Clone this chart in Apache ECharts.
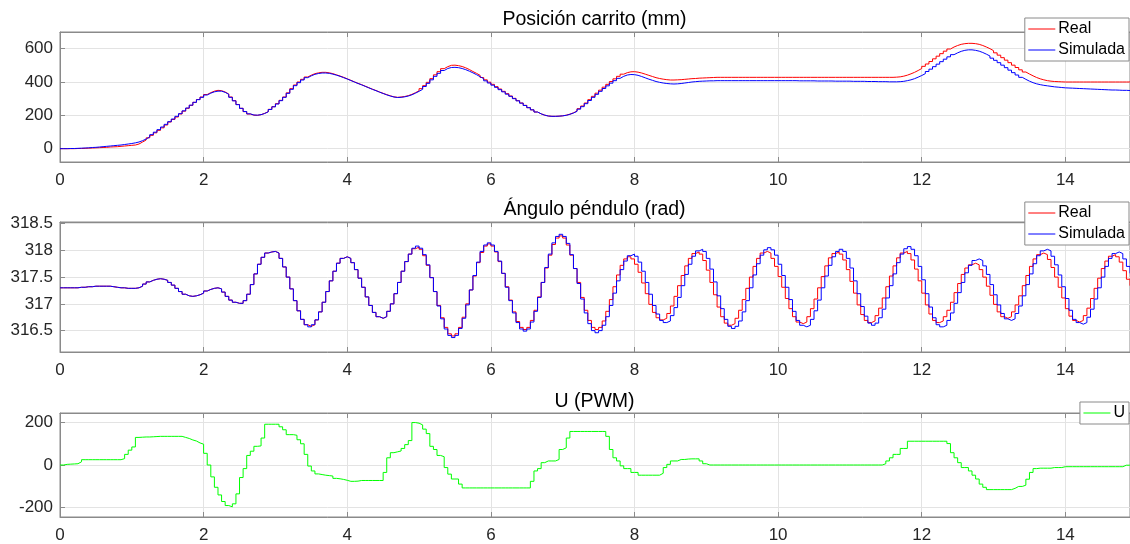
<!DOCTYPE html>
<html>
<head>
<meta charset="utf-8">
<script src="https://cdn.jsdelivr.net/npm/echarts@6/dist/echarts.min.js"></script>
<style>
html,body{margin:0;padding:0;background:#fff}
#chart{width:1130px;height:544px}
</style>
</head>
<body>
<div id="chart"></div>
<script>
// periodo de muestreo (s)
var dt = 0.05;

// Posición carrito (mm)
var posReal = [
0,0,0,0,1,1,2,3,4,5,6,7,8,10,11,12,14,16,18,20,
22,28,40,52,65,80,95,110,125,142,160,175,190,208,225,242,260,278,295,310,
325,336,345,350,348,340,328,310,288,265,242,222,208,201,200,204,212,222,236,252,
270,290,310,335,360,382,400,416,430,441,450,455,458,458,455,450,443,436,428,419,
410,401,392,384,375,366,357,349,340,332,324,317,311,308,310,313,318,326,336,347,
360,378,398,420,443,462,480,492,500,501,498,493,485,475,463,452,440,427,413,399,
386,372,358,344,330,316,302,288,274,260,246,233,220,209,201,196,194,194,195,197,
201,207,215,226,240,256,274,294,314,333,351,369,386,403,419,434,447,456,461,462,
459,454,447,440,433,426,421,417,414,412,412,413,414,416,418,420,421,423,424,425,
426,427,428,428,428,428,428,428,428,428,428,428,428,428,428,428,428,428,428,428,
428,428,428,428,428,428,428,428,428,428,428,428,428,428,428,428,428,428,428,428,
428,428,428,428,428,428,428,428,428,428,428,428,429,431,435,441,449,458,469,481,
494,508,523,539,555,570,585,598,610,619,626,630,632,632,630,626,619,610,600,588,
575,561,546,531,516,501,487,473,460,448,437,427,419,413,408,405,403,402,401,400,
400,400,400,400,400,400,400,400,400,400,400,400,400,400,400,400,400,400,400
];
var posSim = [
0,0,1,1,2,3,4,5,7,8,10,12,14,16,18,20,22,25,28,31,
35,40,48,58,70,84,99,114,130,146,162,178,194,210,227,244,261,278,294,308,
322,333,341,345,345,338,326,308,287,264,242,223,209,202,201,204,211,221,235,251,
268,288,308,332,356,378,396,412,426,437,446,451,454,454,452,447,441,434,426,418,
409,400,391,383,374,365,356,348,339,331,323,316,310,307,308,311,316,323,333,344,
356,373,392,413,434,452,469,481,487,488,486,481,474,465,455,444,432,420,407,394,
381,368,354,341,327,314,300,287,273,259,246,233,220,209,201,196,194,194,195,197,
200,206,214,224,237,252,270,289,308,326,344,361,377,393,408,422,434,442,445,444,
440,433,425,417,410,403,398,394,391,389,388,389,391,394,397,400,402,404,405,406,
407,407,408,408,408,408,408,408,408,408,408,408,408,408,408,408,408,408,408,408,
408,408,408,408,408,407,407,407,407,407,406,406,406,406,406,405,405,405,405,405,
404,404,404,404,403,403,403,402,402,402,401,401,401,402,404,408,413,420,429,439,
450,463,477,492,507,522,537,551,564,575,584,590,593,593,590,585,577,567,556,543,
530,516,501,486,471,456,442,428,416,405,396,389,384,380,377,374,371,369,367,365,
364,363,362,361,360,359,358,357,356,355,354,353,352,352,351,350,350,349,349
];

// Ángulo péndulo (rad)
var angReal = [
317.30,317.30,317.30,317.30,317.30,317.31,317.31,317.32,317.32,317.33,317.33,317.33,317.33,317.33,317.32,317.31,317.30,317.30,317.29,317.29,
317.29,317.30,317.33,317.37,317.41,317.44,317.46,317.47,317.46,317.44,317.40,317.35,317.29,317.23,317.18,317.15,317.14,317.15,317.17,317.20,
317.24,317.27,317.29,317.30,317.28,317.22,317.14,317.07,317.03,317.01,317.01,317.06,317.18,317.36,317.56,317.74,317.87,317.95,317.97,317.98,
317.95,317.85,317.69,317.50,317.28,317.06,316.87,316.71,316.61,316.58,316.61,316.70,316.85,317.03,317.23,317.43,317.61,317.76,317.85,317.88,
317.85,317.77,317.64,317.48,317.31,317.13,316.97,316.84,316.76,316.73,316.76,316.86,317.00,317.19,317.40,317.61,317.79,317.93,318.03,318.06,
318.02,317.90,317.72,317.49,317.23,316.97,316.74,316.56,316.44,316.40,316.44,316.56,316.75,317.00,317.26,317.52,317.77,317.96,318.08,318.12,
318.08,317.97,317.79,317.57,317.32,317.07,316.85,316.67,316.56,316.52,316.56,316.69,316.88,317.13,317.40,317.67,317.91,318.11,318.23,318.27,
318.23,318.10,317.91,317.66,317.40,317.12,316.88,316.69,316.56,316.52,316.56,316.68,316.86,317.08,317.32,317.54,317.72,317.84,317.88,317.84,
317.74,317.59,317.39,317.19,316.99,316.84,316.74,316.70,316.73,316.82,316.96,317.14,317.34,317.53,317.71,317.85,317.94,317.97,317.93,317.81,
317.63,317.40,317.17,316.94,316.76,316.64,316.60,316.63,316.73,316.88,317.08,317.29,317.50,317.70,317.85,317.95,317.98,317.95,317.85,317.70,
317.51,317.31,317.10,316.91,316.76,316.66,316.63,316.66,316.76,316.91,317.09,317.30,317.51,317.71,317.86,317.94,317.97,317.93,317.82,317.64,
317.42,317.20,316.98,316.80,316.69,316.65,316.68,316.78,316.92,317.11,317.32,317.52,317.71,317.86,317.95,317.98,317.94,317.82,317.65,317.43,
317.20,316.98,316.81,316.69,316.65,316.68,316.76,316.88,317.03,317.21,317.38,317.55,317.67,317.73,317.76,317.73,317.64,317.50,317.33,317.16,
316.99,316.85,316.76,316.73,316.76,316.85,316.98,317.15,317.34,317.53,317.70,317.84,317.92,317.95,317.92,317.83,317.68,317.50,317.31,317.11,
316.91,316.77,316.69,316.66,316.69,316.78,316.92,317.10,317.29,317.48,317.66,317.80,317.89,317.92,317.88,317.78,317.62,317.46,317.34
];
var angSim = [
317.30,317.30,317.30,317.30,317.30,317.31,317.31,317.32,317.32,317.33,317.33,317.33,317.33,317.33,317.32,317.31,317.30,317.30,317.29,317.29,
317.29,317.30,317.33,317.37,317.41,317.44,317.46,317.47,317.46,317.44,317.40,317.35,317.29,317.23,317.18,317.15,317.14,317.15,317.17,317.20,
317.24,317.27,317.29,317.30,317.28,317.22,317.14,317.07,317.03,317.01,317.01,317.06,317.18,317.36,317.56,317.74,317.87,317.95,317.97,317.98,
317.95,317.85,317.69,317.50,317.28,317.06,316.87,316.71,316.61,316.57,316.61,316.70,316.85,317.03,317.23,317.43,317.61,317.76,317.85,317.88,
317.85,317.77,317.64,317.48,317.31,317.13,316.97,316.84,316.76,316.73,316.76,316.86,317.00,317.19,317.40,317.61,317.79,317.93,318.04,318.08,
318.04,317.92,317.73,317.49,317.23,316.96,316.72,316.53,316.41,316.37,316.41,316.54,316.73,316.98,317.26,317.53,317.78,317.98,318.10,318.14,
318.10,317.98,317.80,317.57,317.31,317.06,316.83,316.65,316.53,316.49,316.53,316.66,316.86,317.12,317.40,317.68,317.93,318.14,318.26,318.30,
318.26,318.13,317.92,317.66,317.38,317.09,316.83,316.63,316.50,316.46,316.50,316.60,316.76,316.97,317.20,317.43,317.64,317.80,317.90,317.93,
317.89,317.78,317.61,317.40,317.18,316.97,316.81,316.69,316.65,316.68,316.78,316.93,317.12,317.34,317.55,317.74,317.89,317.99,318.02,317.98,
317.85,317.65,317.41,317.15,316.91,316.71,316.58,316.54,316.58,316.68,316.85,317.06,317.30,317.54,317.75,317.91,318.01,318.05,318.01,317.91,
317.74,317.53,317.31,317.08,316.86,316.69,316.60,316.57,316.60,316.71,316.87,317.07,317.30,317.52,317.72,317.88,317.98,318.02,317.98,317.85,
317.67,317.43,317.19,316.95,316.77,316.64,316.60,316.64,316.74,316.90,317.11,317.34,317.56,317.77,317.93,318.03,318.07,318.02,317.90,317.70,
317.45,317.19,316.94,316.74,316.61,316.57,316.60,316.69,316.83,317.01,317.21,317.40,317.58,317.72,317.81,317.84,317.81,317.71,317.55,317.36,
317.17,316.98,316.82,316.72,316.69,316.72,316.82,316.96,317.15,317.36,317.56,317.75,317.90,317.99,318.02,317.99,317.89,317.73,317.54,317.32,
317.10,316.88,316.71,316.65,316.62,316.65,316.75,316.90,317.09,317.30,317.50,317.70,317.85,317.94,317.97,317.94,317.84,317.70,317.57
];

// U (PWM)
var uPwm = [
0,3,4,5,6,15,25,25,25,25,25,25,25,25,25,25,25,30,50,70,
85,130,131,132,132,133,134,135,135,135,135,135,135,135,130,125,118,113,104,98,
55,0,-56,-105,-141,-172,-191,-197,-183,-136,-59,-17,45,65,88,90,127,192,192,192,
192,180,166,143,143,140,119,100,50,-5,-28,-42,-45,-48,-50,-52,-63,-65,-68,-72,
-77,-77,-76,-73,-73,-73,-73,-73,-73,-73,-35,34,58,62,66,78,96,115,200,197,
189,169,148,88,73,45,39,-12,-43,-66,-66,-90,-108,-108,-108,-108,-108,-108,-108,-108,
-108,-108,-108,-108,-108,-108,-108,-108,-108,-108,-108,-77,-28,-17,11,19,19,19,26,73,
81,127,158,158,158,158,158,158,158,158,158,158,135,73,34,19,-4,-17,-17,-35,
-35,-48,-48,-48,-48,-48,-48,-39,-12,3,19,19,26,26,28,29,29,29,19,6,
0,0,0,0,0,0,0,0,0,0,0,0,0,0,0,0,0,0,0,0,
0,0,0,0,0,0,0,0,0,0,0,0,0,0,0,0,0,0,0,0,
0,0,0,0,0,0,0,0,0,6,19,34,50,50,78,78,112,112,112,112,
112,112,112,112,112,112,112,101,58,34,11,-12,-12,-28,-48,-66,-90,-105,-116,-116,
-116,-116,-116,-116,-116,-110,-101,-101,-95,-67,-35,-17,-15,-15,-15,-15,-12,-12,-12,-8,
-8,-8,-8,-8,-8,-8,-8,-8,-8,-8,-8,-8,-8,-8,-8,-8,-1,-1,-1
];

var xTicks = [0, 2, 4, 6, 8, 10, 12, 14];
var legendPos = ['Real', 'Simulada'];
var legendU = ['U'];

var fontFam = '"Liberation Sans", Helvetica, Arial, sans-serif';
var axisColor = '#8a8a8a';
var gridColor = '#e3e3e3';

//convertir a pares [t, valor]
function toPairs(arr){
    var out = [];
    for(var i = 0; i < arr.length; i++){
        out.push([Math.round(i * dt * 100) / 100, arr[i]]);
    }
    return out;
}

var myChart = echarts.init(document.getElementById('chart'), null, {renderer: 'canvas'});

var grids = [
    {left: 60, top: 32, width: 1070, height: 130},
    {left: 60, top: 222, width: 1070, height: 130},
    {left: 60, top: 413, width: 1070, height: 105}
];

function bottomX(gi){
    return {
        type: 'value', gridIndex: gi, min: 0, max: 14.9, interval: xTicks[1] - xTicks[0],
        axisLine: {onZero: false, lineStyle: {color: axisColor}},
        axisTick: {inside: true, length: 5, lineStyle: {color: axisColor}},
        axisLabel: {fontSize: 17, color: '#262626', margin: 10, fontFamily: fontFam, showMaxLabel: false},
        splitLine: {show: true, lineStyle: {color: gridColor}}
    };
}
function topX(gi){
    return {
        type: 'value', gridIndex: gi, position: 'top', min: 0, max: 14.9, interval: 2,
        axisLine: {onZero: false, lineStyle: {color: axisColor}},
        axisTick: {inside: true, length: 5, lineStyle: {color: axisColor}},
        axisLabel: {show: false},
        splitLine: {show: false}
    };
}
function leftY(gi, mn, mx, step){
    return {
        type: 'value', gridIndex: gi, min: mn, max: mx, minInterval: step, maxInterval: step,
        axisLine: {show: true, onZero: false, lineStyle: {color: axisColor}},
        axisTick: {show: true, inside: true, length: 5, lineStyle: {color: axisColor}},
        axisLabel: {fontSize: 17, color: '#262626', margin: 7, fontFamily: fontFam, showMinLabel: false, showMaxLabel: false},
        splitLine: {show: true, lineStyle: {color: gridColor}}
    };
}
function stairs(name, data, color, xi, yi){
    return {
        name: name, type: 'line', step: 'end', xAxisIndex: xi, yAxisIndex: yi,
        data: toPairs(data), symbol: 'none', showSymbol: false,
        lineStyle: {color: color, width: 1}, itemStyle: {color: color},
        animation: false
    };
}
function legendBox(data, top){
    return {
        data: data, orient: 'vertical', right: 1, top: top,
        backgroundColor: '#fff', borderColor: '#8a8a8a', borderWidth: 1,
        padding: [3, 4, 3, 3], itemWidth: 27, itemHeight: 14, itemGap: 5,
        itemStyle: {opacity: 0, color: 'transparent', borderWidth: 0},
        lineStyle: {width: 1},
        textStyle: {fontSize: 16, color: '#000', fontFamily: fontFam, padding: [0, 0, 0, -2]},
        selectedMode: false
    };
}
function titleAt(text, top){
    return {
        text: text, left: 594.5, top: top, textAlign: 'center', padding: 0,
        textStyle: {fontSize: 19.5, fontWeight: 'normal', color: '#000', fontFamily: fontFam}
    };
}

var option = {
    animation: false,
    backgroundColor: '#fff',
    title: [
        titleAt('Posición carrito (mm)', 10),
        titleAt('Ángulo péndulo (rad)', 200),
        titleAt('U (PWM)', 392)
    ],
    legend: [
        legendBox(legendPos, 18),
        legendBox(legendPos, 202),
        legendBox(legendU, 402)
    ],
    grid: grids.map(function (g){
        return {left: g.left, top: g.top, width: g.width, height: g.height,
            show: true, borderColor: axisColor, borderWidth: 1, backgroundColor: 'transparent'};
    }),
    xAxis: [bottomX(0), bottomX(1), bottomX(2), topX(0), topX(1), topX(2)],
    yAxis: [
        leftY(0, -80, 700, 200),
        leftY(1, 316.1, 318.53, 0.5),
        leftY(2, -245, 245, 200)
    ],
    series: [
        stairs('Real', posReal, '#ff0000', 0, 0),
        stairs('Simulada', posSim, '#0000ff', 0, 0),
        stairs('Real', angReal, '#ff0000', 1, 1),
        stairs('Simulada', angSim, '#0000ff', 1, 1),
        stairs('U', uPwm, '#00ff00', 2, 2)
    ]
};
myChart.setOption(option);
</script>
</body>
</html>
